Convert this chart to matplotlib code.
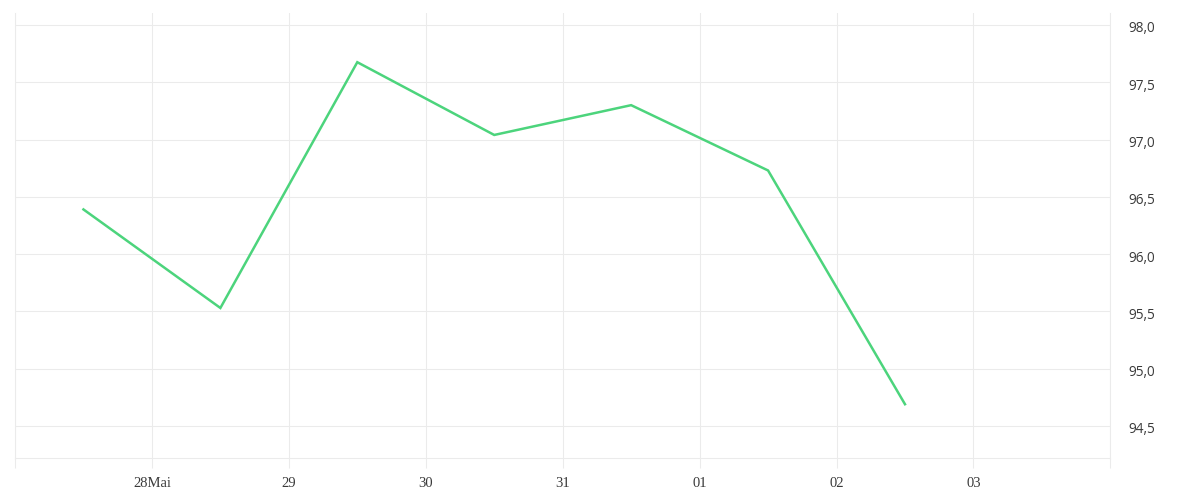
import datetime as dt
import matplotlib
matplotlib.use('Agg')
import matplotlib.pyplot as plt
import matplotlib.transforms as mtransforms
from matplotlib.ticker import FuncFormatter

# values, one per day at midday
days = [dt.datetime(2019, 5, 27, 12) + dt.timedelta(days=i) for i in range(7)]
values = [96.39, 95.53, 97.675, 97.04, 97.30, 96.73, 94.69]

tick_days = [dt.datetime(2019, 5, 27) + dt.timedelta(days=i) for i in range(9)]
tick_labels = ['', '28Mai', '29', '30', '31', '01', '02', '03', '']
yticks = [94.5, 95.0, 95.5, 96.0, 96.5, 97.0, 97.5, 98.0]

grid_col = '#ebebeb'
line_col = '#4cd47c'
text_col = '#3a3a3a'

fig = plt.figure(figsize=(12, 5), dpi=100)
ax = fig.add_axes([0.0125, 0.0834, 0.9128, 0.8912])

ax.plot(days, values, color=line_col, linewidth=1.8, solid_joinstyle='miter')

ax.set_xlim(tick_days[0], tick_days[-1])
ax.set_ylim(94.218, 98.107)

ax.set_xticks(tick_days)
ax.set_xticklabels(tick_labels, family='Liberation Serif', fontsize=10.5, color=text_col)
ax.tick_params(axis='x', length=7.2, width=0.75, color=grid_col, pad=6.5)

ax.yaxis.tick_right()
ax.set_yticks(yticks)
ax.yaxis.set_major_formatter(FuncFormatter(lambda v, p: f'{v:.1f}'.replace('.', ',')))
ax.tick_params(axis='y', length=0, pad=13, labelsize=9.8, labelcolor=text_col)
shift = mtransforms.ScaledTranslation(0, -2 / 100, fig.dpi_scale_trans)
for lab in ax.get_yticklabels():
    lab.set_family('Open Sans')
    lab.set_transform(lab.get_transform() + shift)

ax.grid(True, color=grid_col, linewidth=0.75)
ax.set_axisbelow(True)
ax.spines['top'].set_visible(False)
for s in ['left', 'right', 'bottom']:
    ax.spines[s].set_color(grid_col)
    ax.spines[s].set_linewidth(0.75)

plt.savefig('out.png', dpi=100)
